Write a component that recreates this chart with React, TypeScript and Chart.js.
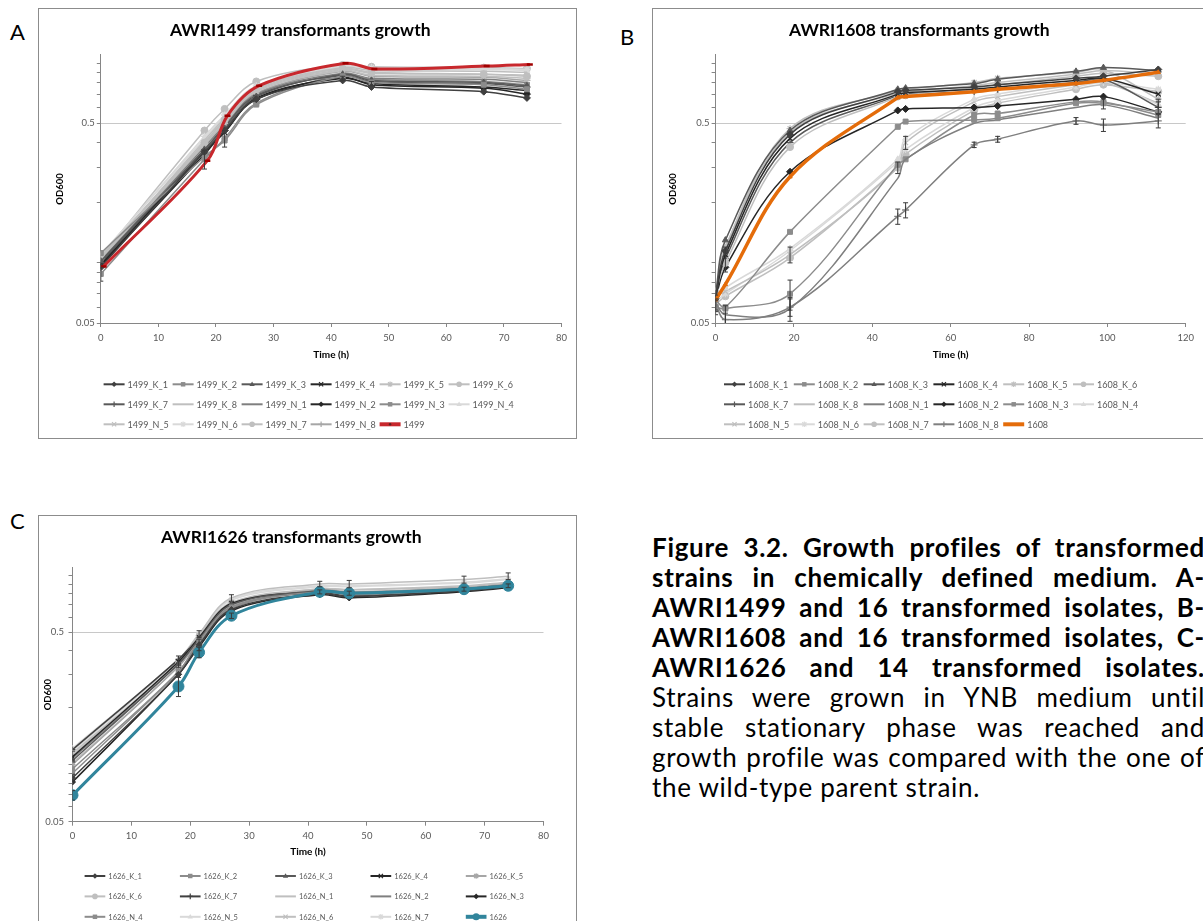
import React, { useEffect, useRef } from 'react';
import { Chart, registerables } from 'chart.js';

Chart.register(...registerables);

const FONT = "Lato, 'Open Sans', 'DejaVu Sans', sans-serif";

// ---------------- Panel A : AWRI1499 ----------------
const A_TIMES = [0, 18, 21.5, 27, 42, 47, 66.5, 74];
const A_MAIN_TIMES = [0.5, 18.5, 22, 27.5, 42.5, 47.5, 67, 74.5];
const A_K_1 = [0.095, 0.36, 0.46, 0.66, 0.82, 0.76, 0.72, 0.67];
const A_K_2 = [0.112, 0.34, 0.41, 0.62, 0.86, 0.8, 0.78, 0.74];
const A_K_3 = [0.102, 0.37, 0.47, 0.68, 0.88, 0.82, 0.8, 0.77];
const A_K_4 = [0.098, 0.36, 0.45, 0.67, 0.84, 0.79, 0.76, 0.73];
const A_K_5 = [0.105, 0.39, 0.5, 0.72, 0.92, 0.87, 0.86, 0.84];
const A_K_6 = [0.108, 0.4, 0.52, 0.74, 0.94, 0.9, 0.88, 0.86];
const A_K_7 = [0.1, 0.37, 0.48, 0.69, 0.87, 0.81, 0.79, 0.76];
const A_K_8 = [0.106, 0.41, 0.53, 0.75, 0.95, 0.92, 0.91, 0.9];
const A_N_1 = [0.103, 0.38, 0.49, 0.7, 0.89, 0.84, 0.83, 0.8];
const A_N_2 = [0.097, 0.35, 0.46, 0.66, 0.85, 0.78, 0.75, 0.7];
const A_N_3 = [0.088, 0.33, 0.42, 0.63, 0.88, 0.83, 0.81, 0.78];
const A_N_4 = [0.11, 0.42, 0.54, 0.76, 0.96, 0.94, 0.93, 0.92];
const A_N_5 = [0.104, 0.4, 0.51, 0.73, 0.93, 0.89, 0.88, 0.87];
const A_N_6 = [0.109, 0.43, 0.55, 0.77, 0.97, 0.95, 0.94, 0.93];
const A_N_7 = [0.107, 0.46, 0.59, 0.81, 0.98, 0.96, 0.95, 0.94];
const A_N_8 = [0.101, 0.39, 0.5, 0.71, 0.91, 0.86, 0.85, 0.82];
const A_1499 = [0.096, 0.325, 0.546, 0.771, 0.998, 0.935, 0.967, 0.986];
const A_N_3_ERR = [0.007, 0.035, 0.04, 0, 0, 0, 0, 0];
const A_K_4_ERR = [0, 0, 0, 0, 0.02, 0.02, 0, 0];

// ---------------- Panel B : AWRI1608 ----------------
const B_TIMES = [0, 2.5, 19, 46.5, 48.5, 66, 72, 92, 99, 113];
const B_K_1 = [0.068, 0.115, 0.44, 0.72, 0.73, 0.76, 0.78, 0.84, 0.86, 0.93];
const B_K_2 = [0.065, 0.06, 0.143, 0.48, 0.51, 0.52, 0.53, 0.63, 0.63, 0.57];
const B_K_3 = [0.07, 0.13, 0.46, 0.74, 0.75, 0.79, 0.83, 0.91, 0.95, 0.92];
const B_K_4 = [0.066, 0.11, 0.42, 0.7, 0.71, 0.74, 0.76, 0.82, 0.84, 0.7];
const B_K_5 = [0.069, 0.12, 0.47, 0.73, 0.74, 0.8, 0.84, 0.9, 0.93, 0.66];
const B_K_6 = [0.072, 0.1, 0.38, 0.68, 0.69, 0.75, 0.78, 0.86, 0.89, 0.86];
const B_K_7 = [0.067, 0.105, 0.4, 0.69, 0.7, 0.72, 0.74, 0.8, 0.83, 0.6];
const B_K_8 = [0.07, 0.12, 0.45, 0.71, 0.72, 0.77, 0.8, 0.88, 0.92, 0.88];
const B_N_1 = [0.063, 0.055, 0.059, 0.265, 0.33, 0.5, 0.52, 0.6, 0.62, 0.53];
const B_N_2 = [0.066, 0.095, 0.286, 0.58, 0.59, 0.6, 0.61, 0.66, 0.68, 0.57];
const B_N_3 = [0.06, 0.059, 0.07, 0.31, 0.33, 0.55, 0.56, 0.64, 0.64, 0.55];
const B_N_4 = [0.065, 0.075, 0.118, 0.33, 0.42, 0.66, 0.7, 0.8, 0.82, 0.62];
const B_N_5 = [0.068, 0.072, 0.11, 0.3, 0.4, 0.64, 0.68, 0.78, 0.8, 0.63];
const B_N_6 = [0.064, 0.07, 0.115, 0.32, 0.37, 0.6, 0.65, 0.76, 0.8, 0.74];
const B_N_7 = [0.062, 0.068, 0.106, 0.3, 0.35, 0.58, 0.63, 0.74, 0.78, 0.72];
const B_N_8 = [0.062, 0.052, 0.06, 0.171, 0.184, 0.39, 0.416, 0.514, 0.49, 0.514];
const B_1608 = [0.0654, 0.078, 0.27, 0.672, 0.68, 0.72, 0.74, 0.79, 0.82, 0.9];
const B_N_8_ERR = [0.004, 0.004, 0.006, 0.015, 0.016, 0.012, 0.014, 0.02, 0.035, 0.04];
const B_N_1_ERR = [0.006, 0.006, 0.008, 0, 0, 0, 0, 0, 0, 0];
const B_N_3_ERR = [0.005, 0, 0.012, 0, 0, 0, 0, 0, 0, 0];
const B_K_7_ERR = [0, 0.015, 0, 0, 0, 0, 0, 0, 0, 0.04];
const B_N_5_ERR = [0, 0, 0.01, 0.02, 0.03, 0, 0, 0, 0, 0.03];
const B_K_2_ERR = [0, 0, 0, 0, 0, 0, 0, 0, 0.04, 0];

// ---------------- Panel C : AWRI1626 ----------------
const C_TIMES = [0, 18, 21.5, 27, 42, 47, 66.5, 74];
const C_K_1 = [0.085, 0.3, 0.43, 0.66, 0.8, 0.77, 0.83, 0.87];
const C_K_2 = [0.095, 0.31, 0.45, 0.68, 0.82, 0.79, 0.84, 0.88];
const C_K_3 = [0.105, 0.34, 0.46, 0.7, 0.83, 0.81, 0.85, 0.89];
const C_K_4 = [0.11, 0.35, 0.47, 0.71, 0.82, 0.8, 0.84, 0.88];
const C_K_5 = [0.1, 0.33, 0.45, 0.69, 0.84, 0.82, 0.86, 0.9];
const C_K_6 = [0.115, 0.345, 0.48, 0.72, 0.85, 0.84, 0.87, 0.91];
const C_K_7 = [0.12, 0.36, 0.47, 0.7, 0.81, 0.78, 0.83, 0.87];
const C_N_1 = [0.112, 0.35, 0.49, 0.76, 0.9, 0.9, 0.95, 0.99];
const C_N_2 = [0.108, 0.34, 0.46, 0.69, 0.82, 0.8, 0.84, 0.88];
const C_N_3 = [0.081, 0.3, 0.42, 0.65, 0.79, 0.76, 0.82, 0.86];
const C_N_4 = [0.09, 0.31, 0.44, 0.67, 0.83, 0.81, 0.85, 0.89];
const C_N_5 = [0.122, 0.36, 0.49, 0.74, 0.87, 0.87, 0.91, 0.95];
const C_N_6 = [0.102, 0.33, 0.46, 0.71, 0.85, 0.84, 0.88, 0.92];
const C_N_7 = [0.118, 0.355, 0.49, 0.75, 0.88, 0.88, 0.92, 0.96];
const C_1626 = [0.069, 0.259, 0.392, 0.612, 0.818, 0.805, 0.845, 0.881];
const C_1626_ERR = [0.004, 0.03, 0.025, 0.02, 0.02, 0.02, 0.02, 0.02];
const C_N_1_ERR = [0.006, 0.025, 0.02, 0.03, 0.03, 0.04, 0.04, 0.04];
const C_K_1_ERR = [0.004, 0, 0.03, 0, 0, 0, 0, 0];

// ---------------- axes ----------------
const Y_TICK_VALUES = [0.05, 0.06, 0.07, 0.08, 0.09, 0.1, 0.2, 0.3, 0.4, 0.5, 0.6, 0.7, 0.8, 0.9, 1.0];
const Y_LABELED = [0.05, 0.5];
const Y_MIN = 0.05;
const Y_MAX = 1.1;

// ---------------- caption ----------------
const CAPTION_BOLD = [
  'Figure 3.2. Growth profiles of transformed',
  'strains in chemically defined medium. A-',
  'AWRI1499 and 16 transformed isolates, B-',
  'AWRI1608 and 16 transformed isolates, C-',
  'AWRI1626 and 14 transformed isolates.',
];
const CAPTION_NORMAL = [
  'Strains were grown in YNB medium until',
  'stable stationary phase was reached and',
  'growth profile was compared with the one of',
  'the wild-type parent strain.',
];

// ---------------- styles ----------------
const G1 = '#262626', G2 = '#404040', G3 = '#595959', G4 = '#7f7f7f', G5 = '#8c8c8c', G6 = '#a6a6a6', G7 = '#bfbfbf', G8 = '#d9d9d9';
const AXIS = '#868686';
const GRID = '#c8c8c8';
const TICK_TEXT = '#595959';

type Marker = 'rectRot' | 'rect' | 'triangle' | 'crossRot' | 'star' | 'circle' | 'cross' | 'line' | 'none';
interface SeriesDef {
  label: string; times: number[]; values: number[]; color: string; marker: Marker;
  main?: boolean; lineWidth?: number; radius?: number; pointColor?: string; legendMarker?: Marker; errors?: number[];
}

function s(label: string, times: number[], values: number[], color: string, marker: Marker, errors?: number[]): SeriesDef {
  return { label, times, values, color, marker, errors };
}

const A_SERIES: SeriesDef[] = [
  s('1499_K_1', A_TIMES, A_K_1, G2, 'rectRot'),
  s('1499_K_2', A_TIMES, A_K_2, G5, 'rect'),
  s('1499_K_3', A_TIMES, A_K_3, G3, 'triangle'),
  s('1499_K_4', A_TIMES, A_K_4, G1, 'crossRot', A_K_4_ERR),
  s('1499_K_5', A_TIMES, A_K_5, G7, 'star'),
  s('1499_K_6', A_TIMES, A_K_6, G7, 'circle'),
  s('1499_K_7', A_TIMES, A_K_7, G3, 'cross'),
  s('1499_K_8', A_TIMES, A_K_8, G7, 'none'),
  s('1499_N_1', A_TIMES, A_N_1, G4, 'none'),
  s('1499_N_2', A_TIMES, A_N_2, G1, 'rectRot'),
  s('1499_N_3', A_TIMES, A_N_3, G5, 'rect', A_N_3_ERR),
  s('1499_N_4', A_TIMES, A_N_4, G8, 'triangle'),
  s('1499_N_5', A_TIMES, A_N_5, G7, 'crossRot'),
  s('1499_N_6', A_TIMES, A_N_6, G8, 'star'),
  s('1499_N_7', A_TIMES, A_N_7, G7, 'circle'),
  s('1499_N_8', A_TIMES, A_N_8, G6, 'cross'),
  { label: '1499', times: A_MAIN_TIMES, values: A_1499, color: '#c8282d', marker: 'line', main: true, lineWidth: 3, radius: 3, pointColor: '#a00000', legendMarker: 'circle' },
];

const B_SERIES: SeriesDef[] = [
  s('1608_K_1', B_TIMES, B_K_1, G2, 'rectRot'),
  s('1608_K_2', B_TIMES, B_K_2, G5, 'rect', B_K_2_ERR),
  s('1608_K_3', B_TIMES, B_K_3, G3, 'triangle'),
  s('1608_K_4', B_TIMES, B_K_4, G1, 'crossRot'),
  s('1608_K_5', B_TIMES, B_K_5, G7, 'star'),
  s('1608_K_6', B_TIMES, B_K_6, G7, 'circle'),
  s('1608_K_7', B_TIMES, B_K_7, G3, 'cross', B_K_7_ERR),
  s('1608_K_8', B_TIMES, B_K_8, G7, 'none'),
  s('1608_N_1', B_TIMES, B_N_1, G4, 'none', B_N_1_ERR),
  s('1608_N_2', B_TIMES, B_N_2, G1, 'rectRot'),
  s('1608_N_3', B_TIMES, B_N_3, G5, 'rect', B_N_3_ERR),
  s('1608_N_4', B_TIMES, B_N_4, G8, 'triangle'),
  s('1608_N_5', B_TIMES, B_N_5, G7, 'crossRot', B_N_5_ERR),
  s('1608_N_6', B_TIMES, B_N_6, G8, 'star'),
  s('1608_N_7', B_TIMES, B_N_7, G7, 'circle'),
  s('1608_N_8', B_TIMES, B_N_8, G4, 'cross', B_N_8_ERR),
  { label: '1608', times: B_TIMES, values: B_1608, color: '#e46c0a', marker: 'triangle', main: true, lineWidth: 3.5, radius: 2.5, legendMarker: 'none' },
];

const C_SERIES: SeriesDef[] = [
  s('1626_K_1', C_TIMES, C_K_1, G2, 'rectRot', C_K_1_ERR),
  s('1626_K_2', C_TIMES, C_K_2, G5, 'rect'),
  s('1626_K_3', C_TIMES, C_K_3, G3, 'triangle'),
  s('1626_K_4', C_TIMES, C_K_4, G1, 'crossRot'),
  s('1626_K_5', C_TIMES, C_K_5, G6, 'star'),
  s('1626_K_6', C_TIMES, C_K_6, G7, 'circle'),
  s('1626_K_7', C_TIMES, C_K_7, G2, 'cross'),
  s('1626_N_1', C_TIMES, C_N_1, G7, 'none', C_N_1_ERR),
  s('1626_N_2', C_TIMES, C_N_2, G4, 'none'),
  s('1626_N_3', C_TIMES, C_N_3, G1, 'rectRot'),
  s('1626_N_4', C_TIMES, C_N_4, G5, 'rect'),
  s('1626_N_5', C_TIMES, C_N_5, G8, 'triangle'),
  s('1626_N_6', C_TIMES, C_N_6, G7, 'crossRot'),
  s('1626_N_7', C_TIMES, C_N_7, G8, 'star'),
  { label: '1626', times: C_TIMES, values: C_1626, color: '#31859c', marker: 'circle', main: true, lineWidth: 3, radius: 5.5, legendMarker: 'circle', errors: C_1626_ERR },
];

interface PanelDef {
  title: string;
  box: { left: number; top: number; width: number; height: number };
  yAxisWidth: number; padRight: number; padBottom: number; xAxisHeight: number;
  titleTop: number; titleBottom: number; yTitlePad: number; xTitlePad: number; yTickPad: number; xTickPad: number;
  xMax: number; xStep: number; pointRadius: number;
  series: SeriesDef[];
  legend: { x0: number; y0: number; dx: number; dy: number; cols: number; fontSize: number; lineLen: number; gap: number };
}

const PANEL_A: PanelDef = {
  title: 'AWRI1499 transformants growth',
  box: { left: 38, top: 8, width: 537, height: 429 },
  yAxisWidth: 61.8, padRight: 14.5, padBottom: 70, xAxisHeight: 45,
  titleTop: 10.7, titleBottom: 14.2, yTitlePad: 14.9, xTitlePad: 7.3, yTickPad: 2, xTickPad: 5,
  xMax: 80, xStep: 10, pointRadius: 3.5,
  series: A_SERIES,
  legend: { x0: 64.6, y0: 375.3, dx: 69, dy: 20, cols: 6, fontSize: 9, lineLen: 21, gap: 3 },
};

const PANEL_B: PanelDef = {
  title: 'AWRI1608 transformants growth',
  box: { left: 652, top: 8, width: 552, height: 429 },
  yAxisWidth: 62.6, padRight: 19.3, padBottom: 70, xAxisHeight: 45,
  titleTop: 10.7, titleBottom: 14.2, yTitlePad: 14.3, xTitlePad: 7.3, yTickPad: 2, xTickPad: 5,
  xMax: 120, xStep: 20, pointRadius: 3.5,
  series: B_SERIES,
  legend: { x0: 71, y0: 375.3, dx: 69.8, dy: 20, cols: 6, fontSize: 9, lineLen: 21, gap: 3 },
};

const PANEL_C: PanelDef = {
  title: 'AWRI1626 transformants growth',
  box: { left: 38, top: 515, width: 537, height: 420 },
  yAxisWidth: 33.5, padRight: 32.5, padBottom: 74.3, xAxisHeight: 40,
  titleTop: 10.7, titleBottom: 19.8, yTitlePad: 3.7, xTitlePad: 4, yTickPad: 4.5, xTickPad: 4.6,
  xMax: 80, xStep: 10, pointRadius: 3,
  series: C_SERIES,
  legend: { x0: 45.6, y0: 360, dx: 95.3, dy: 20.4, cols: 5, fontSize: 7.5, lineLen: 20.7, gap: 3 },
};

function drawMarker(ctx: CanvasRenderingContext2D, m: Marker, x: number, y: number, r: number, color: string) {
  if (m === 'none') return;
  ctx.save();
  ctx.fillStyle = color;
  ctx.strokeStyle = color;
  ctx.lineWidth = 1.2;
  ctx.beginPath();
  const d = r * 0.75;
  switch (m) {
    case 'circle': ctx.arc(x, y, r, 0, Math.PI * 2); ctx.fill(); break;
    case 'rect': ctx.rect(x - r * 0.8, y - r * 0.8, r * 1.6, r * 1.6); ctx.fill(); break;
    case 'rectRot': ctx.moveTo(x, y - r); ctx.lineTo(x + r, y); ctx.lineTo(x, y + r); ctx.lineTo(x - r, y); ctx.closePath(); ctx.fill(); break;
    case 'triangle': ctx.moveTo(x, y - r); ctx.lineTo(x + r * 0.95, y + r * 0.65); ctx.lineTo(x - r * 0.95, y + r * 0.65); ctx.closePath(); ctx.fill(); break;
    case 'cross': ctx.moveTo(x - r, y); ctx.lineTo(x + r, y); ctx.moveTo(x, y - r); ctx.lineTo(x, y + r); ctx.stroke(); break;
    case 'crossRot': ctx.moveTo(x - d, y - d); ctx.lineTo(x + d, y + d); ctx.moveTo(x + d, y - d); ctx.lineTo(x - d, y + d); ctx.stroke(); break;
    case 'star':
      ctx.moveTo(x - r, y); ctx.lineTo(x + r, y); ctx.moveTo(x, y - r); ctx.lineTo(x, y + r);
      ctx.moveTo(x - d, y - d); ctx.lineTo(x + d, y + d); ctx.moveTo(x + d, y - d); ctx.lineTo(x - d, y + d); ctx.stroke(); break;
    case 'line': ctx.moveTo(x - r, y); ctx.lineTo(x + r, y); ctx.stroke(); break;
  }
  ctx.restore();
}

const gridLegendPlugin = {
  id: 'gridLegend',
  afterDraw(chart: any, _args: any, opts: any) {
    const ctx: CanvasRenderingContext2D = chart.ctx;
    const defs: SeriesDef[] = chart.config.options.seriesDefs || [];
    ctx.save();
    defs.forEach((d, i) => {
      const cx = opts.x0 + (i % opts.cols) * opts.dx;
      const cy = opts.y0 + Math.floor(i / opts.cols) * opts.dy;
      ctx.strokeStyle = d.color;
      ctx.lineWidth = d.main ? 4 : 2;
      ctx.beginPath();
      ctx.moveTo(cx, cy);
      ctx.lineTo(cx + opts.lineLen, cy);
      ctx.stroke();
      const lm = d.legendMarker ?? d.marker;
      drawMarker(ctx, lm, cx + opts.lineLen / 2, cy, d.main ? (lm === 'circle' && d.radius && d.radius > 4 ? 3.5 : 1.2) : 2.8, d.main && d.pointColor ? '#602020' : d.color);
      ctx.fillStyle = TICK_TEXT;
      ctx.font = `${opts.fontSize}px ${FONT}`;
      ctx.textBaseline = 'middle';
      ctx.textAlign = 'left';
      ctx.fillText(d.label, cx + opts.lineLen + opts.gap, cy + 0.5);
    });
    ctx.restore();
  },
};

const errorBarPlugin = {
  id: 'errorBars',
  afterDatasetsDraw(chart: any) {
    const ctx: CanvasRenderingContext2D = chart.ctx;
    const xs = chart.scales.x, ys = chart.scales.y;
    const area = chart.chartArea;
    ctx.save();
    ctx.beginPath();
    ctx.rect(area.left, area.top - 6, area.right - area.left + 6, area.bottom - area.top + 6);
    ctx.clip();
    ctx.strokeStyle = '#3a3a3a';
    ctx.lineWidth = 1;
    chart.data.datasets.forEach((ds: any) => {
      if (!ds.errors) return;
      ds.data.forEach((p: any, i: number) => {
        const e = ds.errors[i];
        if (!e) return;
        const px = xs.getPixelForValue(p.x);
        const t = ys.getPixelForValue(p.y + e);
        const b = ys.getPixelForValue(Math.max(p.y - e, 0.001));
        ctx.beginPath();
        ctx.moveTo(px, t); ctx.lineTo(px, b);
        ctx.moveTo(px - 2.5, t); ctx.lineTo(px + 2.5, t);
        ctx.moveTo(px - 2.5, b); ctx.lineTo(px + 2.5, b);
        ctx.stroke();
      });
    });
    ctx.restore();
  },
};

function buildConfig(p: PanelDef): any {
  const datasets = p.series.map((d) => {
    const pc = d.pointColor ?? d.color;
    const stroked = d.marker === 'cross' || d.marker === 'crossRot' || d.marker === 'star' || d.marker === 'line';
    return {
      label: d.label,
      data: d.times.map((t, i) => ({ x: t, y: d.values[i] })),
      borderColor: d.color,
      backgroundColor: d.color,
      borderWidth: d.main ? d.lineWidth : 1.5,
      pointStyle: d.marker === 'none' ? false : d.marker,
      pointRadius: d.marker === 'none' ? 0 : d.radius ?? p.pointRadius,
      pointHoverRadius: 0,
      pointBackgroundColor: pc,
      pointBorderColor: pc,
      pointBorderWidth: d.marker === 'line' ? 2.5 : stroked ? 1.3 : 1,
      tension: 0.35,
      fill: false,
      order: d.main ? 0 : 1,
      errors: d.errors,
    };
  });
  const tickFont = { family: FONT, size: 9.5 };
  return {
    type: 'line',
    data: { datasets },
    plugins: [gridLegendPlugin, errorBarPlugin],
    options: {
      seriesDefs: p.series,
      responsive: false,
      maintainAspectRatio: false,
      animation: false,
      devicePixelRatio: 1,
      events: [],
      layout: { padding: { left: 0, top: 0, right: p.padRight, bottom: p.padBottom } },
      plugins: {
        legend: { display: false },
        tooltip: { enabled: false },
        title: {
          display: true, text: p.title, color: '#000',
          font: { family: FONT, size: 17.5, weight: 'bold' },
          padding: { top: p.titleTop, bottom: p.titleBottom },
        },
        gridLegend: p.legend,
      },
      scales: {
        x: {
          type: 'linear', min: 0, max: p.xMax,
          ticks: { stepSize: p.xStep, color: TICK_TEXT, font: tickFont, padding: p.xTickPad, autoSkip: false, maxRotation: 0 },
          grid: { drawOnChartArea: false, drawTicks: true, tickLength: 4, tickColor: AXIS, color: AXIS },
          border: { display: true, color: AXIS, width: 1 },
          title: { display: true, text: 'Time (h)', color: '#000', font: { family: FONT, size: 10, weight: 'bold' }, padding: { top: 0, bottom: p.xTitlePad } },
          afterFit: (sc: any) => { sc.height = p.xAxisHeight; },
        },
        y: {
          type: 'logarithmic', min: Y_MIN, max: Y_MAX,
          afterBuildTicks: (sc: any) => { sc.ticks = Y_TICK_VALUES.map((v) => ({ value: v })); },
          ticks: {
            autoSkip: false, color: TICK_TEXT, font: tickFont, padding: p.yTickPad,
            callback: (v: number) => {
              const hit = Y_LABELED.find((l) => Math.abs(l - v) < 1e-9);
              return hit !== undefined ? String(hit) : '';
            },
          },
          grid: {
            drawTicks: true, tickLength: 4, tickColor: AXIS,
            color: (c: any) => (c.tick && Math.abs(c.tick.value - 0.5) < 1e-9 ? GRID : 'rgba(0,0,0,0)'),
          },
          border: { display: true, color: AXIS, width: 1 },
          title: { display: true, text: 'OD600', color: '#000', font: { family: FONT, size: 9.5, weight: 'bold' }, padding: { top: p.yTitlePad, bottom: 0 } },
          afterFit: (sc: any) => { sc.width = p.yAxisWidth; },
        },
      },
    },
  };
}

function ChartPanel({ p }: { p: PanelDef }) {
  const ref = useRef<HTMLCanvasElement>(null);
  useEffect(() => {
    if (!ref.current) return;
    const chart = new Chart(ref.current, buildConfig(p));
    return () => chart.destroy();
  }, [p]);
  return (
    <div style={{ position: 'absolute', left: p.box.left, top: p.box.top, width: p.box.width, height: p.box.height, border: '1px solid #8c8c8c', background: '#fff' }}>
      <canvas ref={ref} width={p.box.width} height={p.box.height} style={{ display: 'block', width: p.box.width, height: p.box.height }} />
    </div>
  );
}

const panelLetter = (text: string, left: number, top: number) => (
  <div style={{ position: 'absolute', left, top, fontFamily: FONT, fontSize: 22, lineHeight: '24px', color: '#000' }}>{text}</div>
);

export default function App() {
  const lineStyle: React.CSSProperties = { height: 30, lineHeight: '30px', textAlign: 'justify', textAlignLast: 'justify' as any };
  return (
    <div style={{ position: 'fixed', left: 0, top: 0, width: 1203, height: 921, overflow: 'hidden', background: '#fff' }}>
      {panelLetter('A', 10, 20)}
      {panelLetter('B', 620, 25)}
      {panelLetter('C', 10, 509)}
      <ChartPanel p={PANEL_A} />
      <ChartPanel p={PANEL_B} />
      <ChartPanel p={PANEL_C} />
      <div style={{ position: 'absolute', left: 652, top: 532, width: 553, fontFamily: FONT, fontSize: 26, letterSpacing: '0.7px', color: '#000' }}>
        {CAPTION_BOLD.map((t, i) => (
          <div key={'b' + i} style={{ ...lineStyle, fontWeight: 'bold' }}>{t}</div>
        ))}
        {CAPTION_NORMAL.map((t, i) => (
          <div key={'n' + i} style={i === CAPTION_NORMAL.length - 1 ? { height: 30, lineHeight: '30px', textAlign: 'left' } : lineStyle}>{t}</div>
        ))}
      </div>
    </div>
  );
}
